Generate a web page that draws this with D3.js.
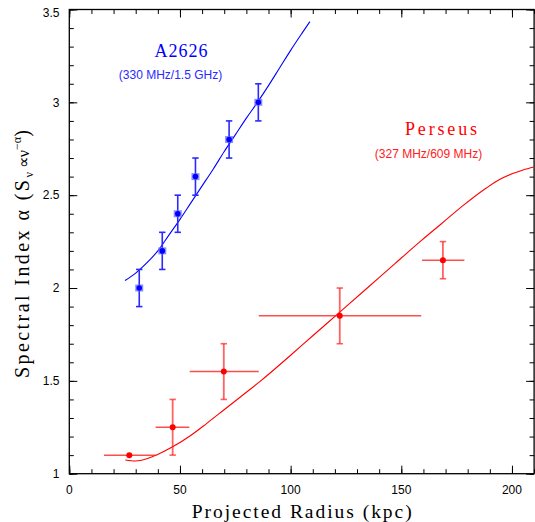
<!DOCTYPE html>
<html><head><meta charset="utf-8">
<script src="https://cdn.jsdelivr.net/npm/d3@7"></script>
<style>body{margin:0;background:#fff}svg{display:block}</style>
</head><body>
<svg id="c" width="535" height="522"></svg>
<script>
// ---- data ----
const xTicks = [0, 50, 100, 150, 200];
const yTicks = [1, 1.5, 2, 2.5, 3, 3.5];
const yTickLabels = ["1", "1.5", "2", "2.5", "3", "3.5"];

const blueR = [31.6, 42.0, 49.0, 57.0, 72.2, 85.4];
const blueA = [2.0, 2.2, 2.4, 2.6, 2.8, 3.0];
const blueErr = [0.1, 0.1, 0.1, 0.1, 0.1, 0.1];

const redR = [27.1, 46.7, 69.8, 122.2, 168.8];
const redA = [1.1, 1.25, 1.55, 1.85, 2.15];
const redRLo = [15.7, 39.0, 54.4, 85.6, 159.4];
const redRHi = [39.2, 54.2, 85.6, 159.0, 178.5];
const redALo = [1.1, 1.1, 1.4, 1.7, 2.05];
const redAHi = [1.1, 1.4, 1.7, 2.0, 2.25];

const blueCurveR = [25.2,30,35,40,45,50,55,60,65,70,75,80,85,90,95,100,105,108.7];
const blueCurveA = [2.04,2.08,2.135,2.20,2.285,2.37,2.46,2.55,2.64,2.735,2.825,2.915,3.0,3.09,3.185,3.28,3.37,3.435];

const redCurveR = [25.3,30,35,39.2,46.7,55,62,69.8,78,86.2,100,110,122.2,135,147,159,168,178,188.6,195,200,205,210];
const redCurveA = [1.074,1.068,1.08,1.10,1.145,1.207,1.27,1.343,1.42,1.497,1.638,1.743,1.87,2.004,2.13,2.255,2.345,2.445,2.54,2.588,2.615,2.636,2.652];

// ---- layout ----
const svg = d3.select("#c");
const L = 69.3, R = 534.1, T = 9.5, B = 473.7;
const x = d3.scaleLinear().domain([0, 210]).range([L, R]);
const y = d3.scaleLinear().domain([1, 3.5]).range([B, T]);

svg.append("defs").append("clipPath").attr("id", "clip").append("rect")
  .attr("x", L).attr("y", T).attr("width", R - L).attr("height", B - T);

// axes with inward ticks
const minorX = d3.range(0, 211, 10);
const minorY = d3.range(1, 3.501, 0.1);
function tk(g) { g.select(".domain").remove(); g.selectAll("line").attr("stroke", "#000").attr("stroke-width", 1); }

const axB = svg.append("g").attr("transform", `translate(0,${B})`);
axB.call(d3.axisTop(x).tickValues(minorX).tickSize(4.5).tickFormat("")).call(tk);
axB.append("g").call(d3.axisTop(x).tickValues(xTicks).tickSize(8).tickFormat("")).call(tk);
const axT = svg.append("g").attr("transform", `translate(0,${T})`);
axT.call(d3.axisBottom(x).tickValues(minorX).tickSize(4.5).tickFormat("")).call(tk);
axT.append("g").call(d3.axisBottom(x).tickValues(xTicks).tickSize(8).tickFormat("")).call(tk);
const axL = svg.append("g").attr("transform", `translate(${L},0)`);
axL.call(d3.axisRight(y).tickValues(minorY).tickSize(4.5).tickFormat("")).call(tk);
axL.append("g").call(d3.axisRight(y).tickValues(yTicks).tickSize(8).tickFormat("")).call(tk);
const axR = svg.append("g").attr("transform", `translate(${R},0)`);
axR.call(d3.axisLeft(y).tickValues(minorY).tickSize(4.5).tickFormat("")).call(tk);
axR.append("g").call(d3.axisLeft(y).tickValues(yTicks).tickSize(8).tickFormat("")).call(tk);

svg.append("rect").attr("x", L).attr("y", T).attr("width", R - L).attr("height", B - T)
  .attr("fill", "none").attr("stroke", "#000").attr("stroke-width", 1.3);

// tick labels
const lblFont = "Liberation Sans, Arial, sans-serif";
svg.append("g").selectAll("text").data(xTicks).join("text")
  .attr("x", d => x(d)).attr("y", 494)
  .attr("text-anchor", "middle").attr("font-family", lblFont).attr("font-size", 12)
  .text(d => d);
svg.append("g").selectAll("text").data(yTicks).join("text")
  .attr("x", 59.5).attr("y", d => y(d) + 4.2 + (d === 3.5 ? 3.5 : 0))
  .attr("text-anchor", "end").attr("font-family", lblFont).attr("font-size", 12)
  .text((d, i) => yTickLabels[i]);

// axis titles
const serif = "Liberation Serif, Times New Roman, serif";
svg.append("text").attr("x", 301.7).attr("y", 517.5).attr("text-anchor", "middle")
  .attr("font-family", serif).attr("font-size", 19.5)
  .attr("textLength", 220).attr("lengthAdjust", "spacing")
  .text("Projected Radius (kpc)");

const yt = svg.append("text").attr("transform", "translate(28.5,378) rotate(-90)")
  .attr("text-anchor", "start").attr("font-family", serif).attr("font-size", 20);
yt.append("tspan").attr("textLength", 198).attr("lengthAdjust", "spacing").text("Spectral Index α (S");
yt.append("tspan").attr("font-size", 12).attr("dy", 4).text("ν");
yt.append("tspan").attr("dy", -4).attr("font-size", 16).text("  ∝ν");
yt.append("tspan").attr("font-size", 12).attr("dy", -8).text("−α");
yt.append("tspan").attr("dy", 8).text(")");

// curves
const line = d3.line().curve(d3.curveMonotoneX);
const plot = svg.append("g").attr("clip-path", "url(#clip)");
plot.append("path").attr("d", line(blueCurveR.map((r, i) => [x(r), y(blueCurveA[i])])))
  .attr("fill", "none").attr("stroke", "#0000ff").attr("stroke-width", 1.1);
plot.append("path").attr("d", line(redCurveR.map((r, i) => [x(r), y(redCurveA[i])])))
  .attr("fill", "none").attr("stroke", "#ff0000").attr("stroke-width", 1.1);

// blue points
const bg = svg.append("g");
blueR.forEach((r, i) => {
  const cx = x(r), cy = y(blueA[i]), y0 = y(blueA[i] - blueErr[i]), y1 = y(blueA[i] + blueErr[i]);
  bg.append("line").attr("x1", cx).attr("x2", cx).attr("y1", y0).attr("y2", y1)
    .attr("stroke", "#2a2aff").attr("stroke-width", 1.6);
  [y0, y1].forEach(v => bg.append("line").attr("x1", cx - 3.2).attr("x2", cx + 3.2).attr("y1", v).attr("y2", v)
    .attr("stroke", "#2a2aff").attr("stroke-width", 1.6));
  bg.append("rect").attr("x", cx - 4).attr("y", cy - 3.5).attr("width", 8).attr("height", 7)
    .attr("fill", "#7070ff").attr("opacity", 0.8);
  bg.append("circle").attr("cx", cx).attr("cy", cy).attr("r", 2.8).attr("fill", "#0000ff");
});

// red points
const rg = svg.append("g");
redR.forEach((r, i) => {
  const cx = x(r), cy = y(redA[i]);
  rg.append("line").attr("x1", x(redRLo[i])).attr("x2", x(redRHi[i])).attr("y1", cy).attr("y2", cy)
    .attr("stroke", "#ff2020").attr("stroke-opacity", 0.8).attr("stroke-width", 1.5);
  if (redAHi[i] > redALo[i]) {
    const y0 = y(redALo[i]), y1 = y(redAHi[i]);
    rg.append("line").attr("x1", cx).attr("x2", cx).attr("y1", y0).attr("y2", y1)
      .attr("stroke", "#ff2020").attr("stroke-opacity", 0.7).attr("stroke-width", 1.8);
    [y0, y1].forEach(v => rg.append("line").attr("x1", cx - 3.2).attr("x2", cx + 3.2).attr("y1", v).attr("y2", v)
      .attr("stroke", "#ff2020").attr("stroke-opacity", 0.7).attr("stroke-width", 1.6));
  }
  rg.append("circle").attr("cx", cx).attr("cy", cy).attr("r", 3).attr("fill", "#ff0000");
});

// annotations
svg.append("text").attr("x", 181).attr("y", 56.5).attr("text-anchor", "middle")
  .attr("font-family", serif).attr("font-size", 18).attr("fill", "#0000ff")
  .attr("textLength", 53).attr("lengthAdjust", "spacing").text("A2626");
svg.append("text").attr("x", 170.5).attr("y", 79).attr("text-anchor", "middle")
  .attr("font-family", lblFont).attr("font-size", 12).attr("fill", "#2a2aff")
  .text("(330 MHz/1.5 GHz)");
svg.append("text").attr("x", 441).attr("y", 135).attr("text-anchor", "middle")
  .attr("font-family", serif).attr("font-size", 18).attr("fill", "#ff0000")
  .attr("textLength", 72).attr("lengthAdjust", "spacing").text("Perseus");
svg.append("text").attr("x", 428.5).attr("y", 158).attr("text-anchor", "middle")
  .attr("font-family", lblFont).attr("font-size", 12).attr("fill", "#ff2020")
  .text("(327 MHz/609 MHz)");
</script>
</body></html>
